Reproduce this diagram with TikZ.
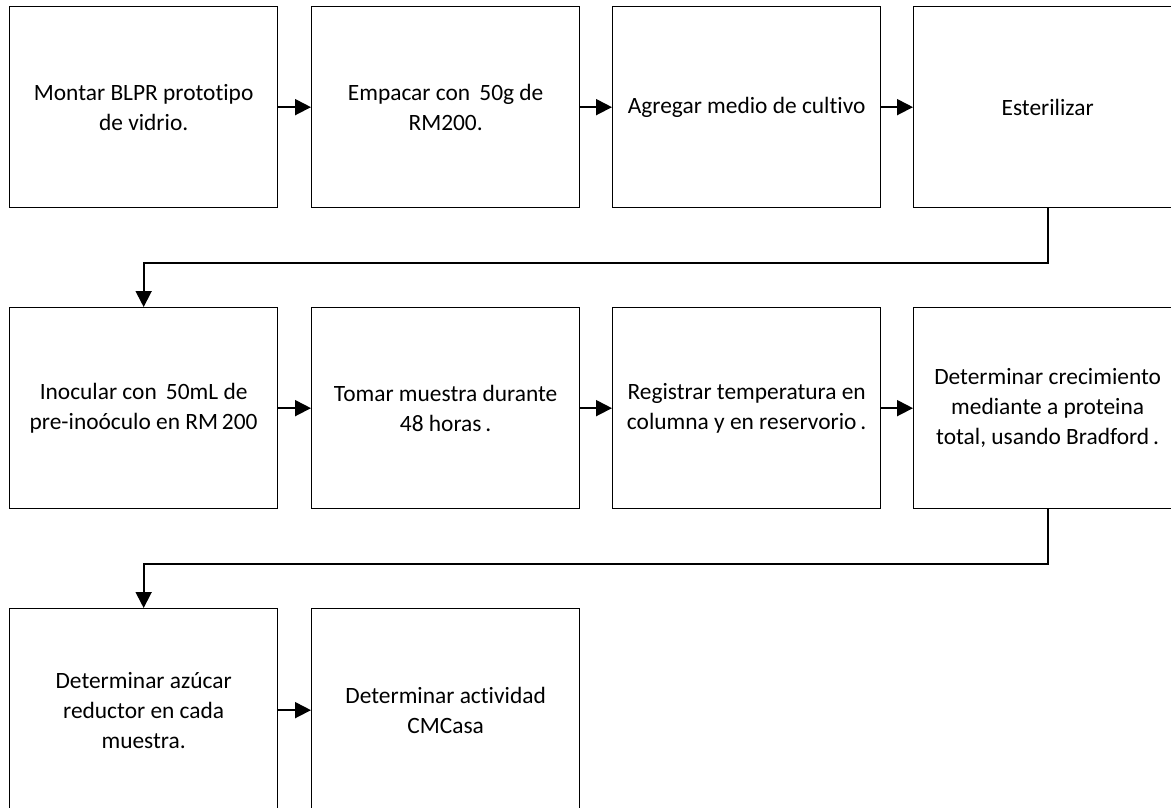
\documentclass[tikz,border=0pt]{standalone}
\usepackage{fontspec}
\setmainfont{Carlito}[Ligatures=NoCommon]
\usetikzlibrary{arrows.meta}
\begin{document}
\begin{tikzpicture}[x=1pt,y=-1pt,
  stepbox/.style={draw, line width=1.3pt, minimum width=268pt, minimum height=201pt,
    inner sep=0pt, align=center, anchor=north west,
    font=\fontsize{23.4}{30}\selectfont},
  lastrow/.style={stepbox, minimum height=203pt},
  flow/.style={line width=1.8pt, -{Triangle[length=16pt,width=16pt]}}]
\useasboundingbox (0,0) rectangle (1171,807);
\clip (0,0) rectangle (1171,807);

% first row
\node[stepbox] (a1) at (9,6)   {Montar BLPR prototipo\\de vidrio.};
\node[stepbox] (a2) at (311,6) {Empacar con\, 50g de\\RM200.};
\node[stepbox] (a3) at (612,6) {Agregar medio de cultivo};
\node[stepbox] (a4) at (913,6) {Esterilizar};

% second row
\node[stepbox] (b1) at (9,307)   {Inocular con\, 50mL de\\pre-inoóculo en RM\,200};
\node[stepbox] (b2) at (311,307) {Tomar muestra durante\\48 horas\,.};
\node[stepbox] (b3) at (612,307) {Registrar temperatura en\\columna y en reservorio\,.};
\node[stepbox] (b4) at (913,307) {Determinar crecimiento\\mediante a proteina\\total, usando Bradford\,.};

% third row
\node[lastrow] (c1) at (9,608)   {Determinar azúcar\\reductor en cada\\muestra.};
\node[lastrow] (c2) at (311,608) {Determinar actividad\\CMCasa};

% connectors
\draw[flow] (a1) -- (a2);
\draw[flow] (a2) -- (a3);
\draw[flow] (a3) -- (a4);
\draw[flow] (a4.south) -- ++(0,55) -| (b1.north);
\draw[flow] (b1) -- (b2);
\draw[flow] (b2) -- (b3);
\draw[flow] (b3) -- (b4);
\draw[flow] (b4.south) -- ++(0,55) -| (c1.north);
\draw[flow] (c1) -- (c2);
\end{tikzpicture}
\end{document}
